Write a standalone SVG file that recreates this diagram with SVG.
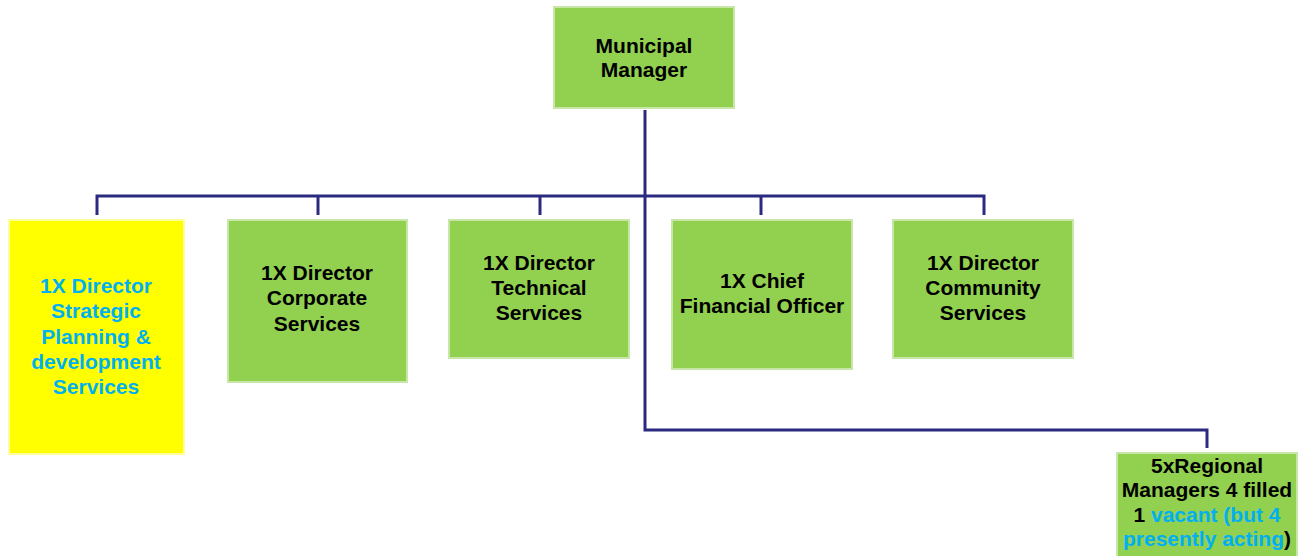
<svg xmlns="http://www.w3.org/2000/svg" width="1301" height="556" viewBox="0 0 1301 556">
<style>
.box{fill:#92D050;stroke:#C8E6A8;stroke-width:2}
.ybox{fill:#FFFF00;stroke:#FFFF99;stroke-width:2}
text{font-family:"Liberation Sans",Arial,sans-serif;font-weight:bold;font-size:21px;text-anchor:middle;fill:#000}
.cy{fill:#00B0F0}
.ln{fill:none;stroke:#2A2A80;stroke-width:3}
</style>
<rect width="1301" height="556" fill="#fff"/>
<g id="connectors">
<path class="ln" d="M645 110 V430 H1207 V448"/>
<path class="ln" d="M97 215 V196 H984 V215"/>
<path class="ln" d="M318 196 V215"/>
<path class="ln" d="M540 196 V215"/>
<path class="ln" d="M761 196 V215"/>
</g>
<g id="mm">
<rect class="box" x="554" y="7" width="180" height="101"/>
<text x="644" y="53">Municipal</text>
<text x="644" y="77">Manager</text>
</g>
<g id="strategic">
<rect class="ybox" x="9" y="220" width="175" height="234"/>
<text class="cy" x="96" y="293">1X Director</text>
<text class="cy" x="96" y="318">Strategic</text>
<text class="cy" x="96" y="344">Planning &amp;</text>
<text class="cy" x="96" y="369">development</text>
<text class="cy" x="96" y="394">Services</text>
</g>
<g id="corporate">
<rect class="box" x="228" y="220" width="179" height="162"/>
<text x="317" y="280">1X Director</text>
<text x="317" y="305">Corporate</text>
<text x="317" y="331">Services</text>
</g>
<g id="technical">
<rect class="box" x="449" y="220" width="180" height="138"/>
<text x="539" y="270">1X Director</text>
<text x="539" y="295">Technical</text>
<text x="539" y="320">Services</text>
</g>
<g id="cfo">
<rect class="box" x="672" y="220" width="180" height="149"/>
<text x="762" y="288">1X Chief</text>
<text x="762" y="313">Financial Officer</text>
</g>
<g id="community">
<rect class="box" x="893" y="220" width="180" height="138"/>
<text x="983" y="270">1X Director</text>
<text x="983" y="295">Community</text>
<text x="983" y="320">Services</text>
</g>
<g id="regional">
<rect class="box" x="1117" y="453" width="180" height="110"/>
<text x="1207" y="473">5xRegional</text>
<text x="1207" y="497">Managers 4 filled</text>
<text x="1207" y="522">1<tspan class="cy"> vacant (but 4</tspan></text>
<text x="1207" y="546"><tspan class="cy">presently acting</tspan>)</text>
</g>
</svg>
